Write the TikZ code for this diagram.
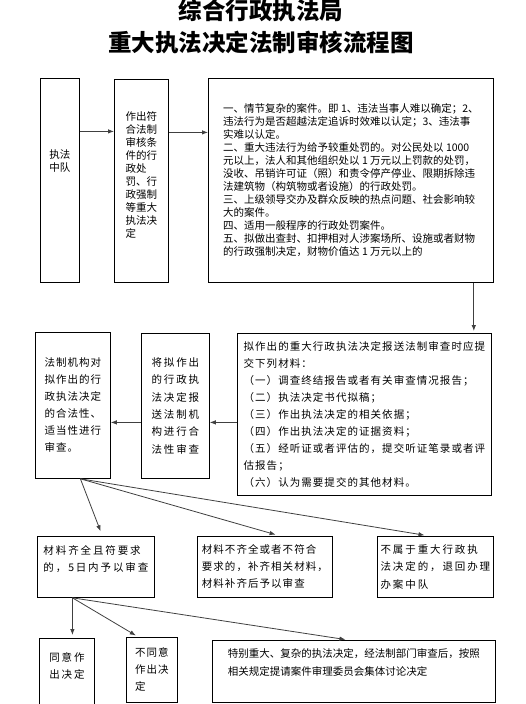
\documentclass[tikz,border=0pt]{standalone}
\usepackage{fontspec}
\usetikzlibrary{arrows.meta}

\newfontfamily\cjk{Noto Sans CJK SC}
\newfontfamily\cjkmid[LetterSpace=10]{Noto Sans CJK SC}
\newfontfamily\cjkwide[LetterSpace=18]{Noto Sans CJK SC}

\tikzset{
    box/.style={draw, line width=0.8pt, inner sep=0pt, anchor=north west, align=left},
    plain/.style={font=\cjk\fontsize{10.5}{13}\selectfont},
    mid/.style={font=\cjkmid\fontsize{10.5}{17}\selectfont},
    wide/.style={font=\cjkwide\fontsize{10.5}{17.3}\selectfont},
    arr/.style={draw=black!75, line width=0.8pt, -{Latex[length=6pt, width=4.5pt]}},
}

\begin{document}
\begin{tikzpicture}[x=1pt, y=-1pt]

    % Fix the page to the size of the reference
    \useasboundingbox (0,0) rectangle (525,704);

    % 1. Title
    \node[font=\cjk\bfseries\fontsize{23.5}{32}\selectfont, align=center] (title) at (261,27)
        {综合行政执法局\\重大执法决定法制审核流程图};

    % 2. Top row: squad, decision, case types
    \node[box, plain, minimum width=39pt, minimum height=204pt] (squad) at (40,78)
        {执法\\中队\\~\\~\\~};
    \node[box, plain, minimum width=54pt, minimum height=203pt] (decide) at (114,79)
        {作出符\\合法制\\审核条\\件的行\\政处\\罚、行\\政强制\\等重大\\执法决\\定\\~};
    \node[box, plain, minimum width=285pt, minimum height=204pt] (cases) at (208,78)
        {一、情节复杂的案件。即~1、违法当事人难以确定；2、\\
         违法行为是否超越法定追诉时效难以认定；3、违法事\\
         实难以认定。\\
         二、重大违法行为给予较重处罚的。对公民处以~1000\\
         元以上，法人和其他组织处以~1~万元以上罚款的处罚，\\
         没收、吊销许可证（照）和责令停产停业、限期拆除违\\
         法建筑物（构筑物或者设施）的行政处罚。\\
         三、上级领导交办及群众反映的热点问题、社会影响较\\
         大的案件。\\
         四、适用一般程序的行政处罚案件。\\
         五、拟做出查封、扣押相对人涉案场所、设施或者财物\\
         的行政强制决定，财物价值达~1~万元以上的};

    % 3. Middle row: materials, submission, review
    \node[box, mid, minimum width=254pt, minimum height=162pt] (materials) at (237,333)
        {拟作出的重大行政执法决定报送法制审查时应提\\
         交下列材料：\\
         （一）调查终结报告或者有关审查情况报告；\\
         （二）执法决定书代拟稿；\\
         （三）作出执法决定的相关依据；\\
         （四）作出执法决定的证据资料；\\
         （五）经听证或者评估的，提交听证笔录或者评\\
         估报告；\\
         （六）认为需要提交的其他材料。};
    \node[box, wide, minimum width=68pt, minimum height=145pt] (submit) at (141,333)
        {将拟作出\\的行政执\\法决定报\\送法制机\\构进行合\\法性审查};
    \node[box, mid, minimum width=75pt, minimum height=146pt] (review) at (35,332)
        {法制机构对\\拟作出的行\\政执法决定\\的合法性、\\适当性进行\\审查。};

    % 4. Third row: outcomes of the check
    \node[box, wide, minimum width=117pt, minimum height=61pt] (full) at (37,536)
        {材料齐全且符要求\\的，5\,日内予以审查\\~};
    \node[box, mid, minimum width=135pt, minimum height=61pt] (lack) at (197,536)
        {材料不齐全或者不符合\\要求的，补齐相关材料，\\材料补齐后予以审查};
    \node[box, wide, minimum width=116pt, minimum height=61pt] (back) at (377,536)
        {不属于重大行政执\\法决定的，退回办理\\办案中队};

    % 5. Bottom row: final decisions
    \node[box, wide, minimum width=55pt, minimum height=72pt] (agree) at (39,638)
        {同意作\\出决定\\~};
    \node[box, mid, minimum width=51pt, minimum height=65pt] (refuse) at (126,637)
        {不同意\\作出决\\定};
    \node[box, plain, minimum width=283pt, minimum height=62pt, font=\cjk\fontsize{10.5}{18.5}\selectfont] (board) at (212,640)
        {特别重大、复杂的执法决定，经法制部门审查后，按照\\
         相关规定提请案件审理委员会集体讨论决定\\~};

    % 6. Connectors of the top and middle rows
    \draw[arr] ([yshift=49pt]squad.east) -- ([yshift=49pt]squad.east -| decide.west);
    \draw[arr] ([yshift=48.5pt]decide.east) -- ([yshift=48.5pt]decide.east -| cases.west);
    \draw[arr, shorten >=2pt] ([xshift=-18pt]materials.north east |- cases.south) -- ([xshift=-18pt]materials.north east);
    \draw[arr] ([yshift=-8pt]materials.west) -- ([yshift=-8pt]materials.west -| submit.east);
    \draw[arr] ([yshift=-8pt]materials.west -| submit.west) -- ([yshift=-8pt]materials.west -| review.east);

    % 7. Fans of arrows to the outcomes
    \coordinate (reviewOut) at ([xshift=7.5pt]review.south);
    \foreach \dest/\dx in {full/6.5, lack/15.5, back/-6}
        \draw[arr, shorten >=5pt] (reviewOut) -- ([xshift=\dx pt]\dest.north);

    \coordinate (fullOut) at ([xshift=-23.5pt]full.south);
    \foreach \dest/\dx in {agree/5.5, refuse/-13.5, board/-5.5}
        \draw[arr, shorten >=3pt] (fullOut) -- ([xshift=\dx pt]\dest.north);
\end{tikzpicture}
\end{document}
